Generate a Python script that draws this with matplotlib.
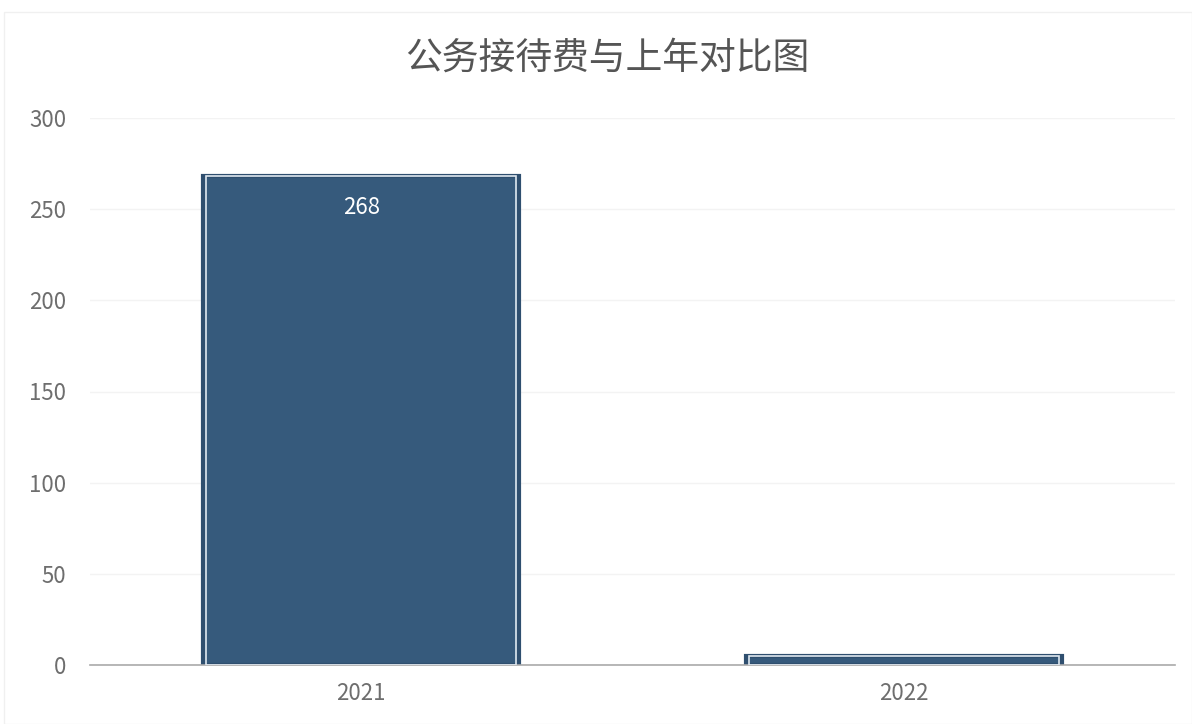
import matplotlib
matplotlib.use('Agg')
import matplotlib.pyplot as plt
from matplotlib.patches import Rectangle

plt.rcParams['font.family'] = ['Noto Sans CJK SC', 'DejaVu Sans']

# 데이터
years = ['2021', '2022']
values = [268, 5]
title = '公务接待费与上年对比图'
yticks = [0, 50, 100, 150, 200, 250, 300]

fig = plt.figure(figsize=(11.92, 7.24), dpi=100)
# 바깥 테두리 (아주 옅게)
fig.patches.append(Rectangle((4/1192, 0), 1 - 4/1192, 1 - 12/724, transform=fig.transFigure,
                             fill=False, edgecolor='#f0f0f0', linewidth=1))

ax = fig.add_axes([90/1192, 1 - 665/724, (1175 - 90)/1192, (665 - 118)/724])
x = range(len(years))
ax.bar(x, values, width=0.582, color='#365a7c', edgecolor='#2f4f6f', linewidth=3, zorder=2)
ax.bar(x, values, width=0.572, color='none', edgecolor='#dfe8f0', linewidth=1.2, zorder=3)

ax.set_xlim(-0.5, 1.5)
ax.set_ylim(0, 300)
ax.set_yticks(yticks)
ax.set_xticks(list(x))
ax.set_xticklabels(years)
ax.tick_params(axis='both', length=0, labelsize=16, colors='#6e6e6e')
ax.tick_params(axis='y', pad=17)
ax.tick_params(axis='x', pad=12)
ax.grid(axis='y', color='#f3f3f3', linewidth=1, zorder=0)
for s in ['top', 'right', 'left']:
    ax.spines[s].set_visible(False)
ax.spines['bottom'].set_color('#aaaaaa')
ax.spines['bottom'].set_linewidth(1.2)

# 값 라벨
ax.text(0, values[0] - 17, str(values[0]), ha='center', va='center', color='white', fontsize=16, zorder=4)

fig.text(607/1192, 1 - 58/724, title, ha='center', va='center', fontsize=26.5, color='#555555')

fig.savefig('out.png', dpi=100)
